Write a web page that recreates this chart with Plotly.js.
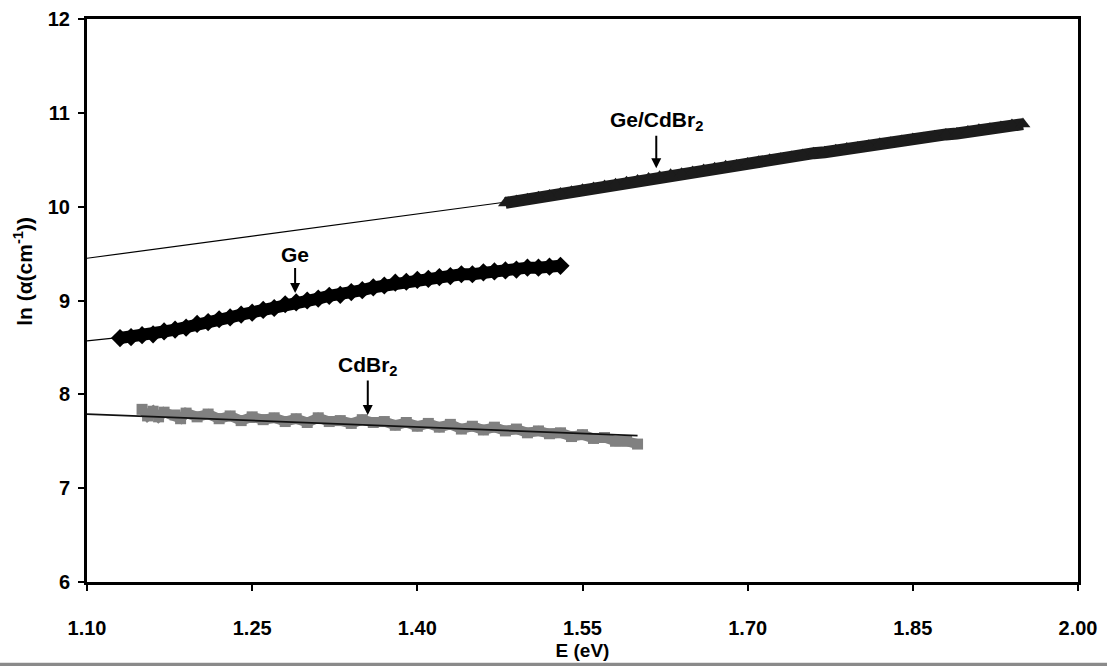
<!DOCTYPE html>
<html>
<head>
<meta charset="utf-8">
<script src="https://cdn.plot.ly/plotly-3.0.1.min.js"></script>
<style>html,body{margin:0;padding:0;background:#fff;}#chart{width:1107px;height:666px;}</style>
</head>
<body>
<div id="chart"></div>
<script>
// Ge
const geE = [1.13,1.14,1.15,1.16,1.17,1.18,1.19,1.20,1.21,1.22,1.23,1.24,1.25,1.26,1.27,1.28,1.29,1.30,1.31,1.32,1.33,1.34,1.35,1.36,1.37,1.38,1.39,1.40,1.41,1.42,1.43,1.44,1.45,1.46,1.47,1.48,1.49,1.50,1.51,1.52,1.53];
const geLn = [8.60,8.61,8.63,8.64,8.67,8.69,8.71,8.75,8.77,8.80,8.82,8.85,8.87,8.90,8.92,8.96,8.98,9.00,9.02,9.05,9.06,9.09,9.11,9.14,9.16,9.19,9.20,9.22,9.23,9.25,9.26,9.28,9.28,9.30,9.31,9.32,9.33,9.35,9.35,9.36,9.37];
// Ge/CdBr2
const gecdE = [1.48,1.49,1.50,1.51,1.52,1.53,1.54,1.55,1.56,1.57,1.58,1.59,1.60,1.61,1.62,1.63,1.64,1.65,1.66,1.67,1.68,1.69,1.70,1.71,1.72,1.73,1.74,1.75,1.76,1.77,1.78,1.79,1.80,1.81,1.82,1.83,1.84,1.85,1.86,1.87,1.88,1.89,1.90,1.91,1.92,1.93,1.94,1.95];
const gecdLn = [10.04,10.06,10.08,10.10,10.12,10.14,10.16,10.18,10.20,10.22,10.24,10.26,10.28,10.30,10.32,10.34,10.35,10.37,10.39,10.41,10.43,10.44,10.46,10.48,10.50,10.51,10.53,10.55,10.57,10.58,10.60,10.62,10.63,10.65,10.67,10.68,10.70,10.72,10.73,10.75,10.77,10.78,10.80,10.82,10.83,10.85,10.87,10.88];
// CdBr2
const cdE = [1.15,1.155,1.16,1.165,1.17,1.18,1.185,1.19,1.20,1.21,1.22,1.23,1.24,1.25,1.26,1.27,1.28,1.29,1.30,1.31,1.32,1.33,1.34,1.35,1.36,1.37,1.38,1.39,1.40,1.41,1.42,1.43,1.44,1.45,1.46,1.47,1.48,1.49,1.50,1.51,1.52,1.53,1.54,1.55,1.56,1.57,1.58,1.59,1.60];
const cdLn = [7.84,7.77,7.82,7.76,7.81,7.78,7.74,7.80,7.76,7.79,7.74,7.77,7.72,7.76,7.73,7.75,7.71,7.74,7.70,7.75,7.71,7.72,7.69,7.73,7.70,7.71,7.67,7.70,7.66,7.69,7.65,7.68,7.63,7.66,7.62,7.65,7.61,7.63,7.59,7.61,7.58,7.59,7.55,7.57,7.53,7.54,7.50,7.50,7.47];
// linear-fit extrapolations (end points)
const fitGeE = [1.10, 1.15], fitGeLn = [8.57, 8.63];
const fitGeCdE = [1.10, 1.50], fitGeCdLn = [9.45, 10.08];
const fitCdE = [1.10, 1.60], fitCdLn = [7.79, 7.56];
// labels
const labels = ['Ge/CdBr<sub>2</sub>', 'Ge', 'CdBr<sub>2</sub>'];
const labelE = [1.617, 1.289, 1.355];
const labelLn = [10.41, 9.08, 7.78];
const xTicks = [1.10, 1.25, 1.40, 1.55, 1.70, 1.85, 2.00];
const xTickText = ['1.10','1.25','1.40','1.55','1.70','1.85','2.00'];
const yTicks = [6,7,8,9,10,11,12];
const xTitle = 'E (eV)';
const yTitle = 'ln (α(cm<sup>-1</sup>))';

const F = 'Liberation Sans, Arial, sans-serif';
const traces = [
  {x: fitGeCdE, y: fitGeCdLn, mode: 'lines', line: {color: '#000', width: 1.2}, showlegend: false},
  {x: fitGeE, y: fitGeLn, mode: 'lines', line: {color: '#000', width: 1.2}, showlegend: false},
  {x: geE, y: geLn, mode: 'lines', line: {color: '#000', width: 12}, showlegend: false},
  {x: geE, y: geLn, mode: 'markers', marker: {symbol: 'diamond', size: 14, color: '#000'}, showlegend: false},
  {x: gecdE, y: gecdLn, mode: 'lines', line: {color: '#1c1c1c', width: 12}, showlegend: false},
  {x: gecdE, y: gecdLn, mode: 'markers', marker: {symbol: 'triangle-up', size: 13, color: '#1c1c1c'}, showlegend: false},
  {x: cdE, y: cdLn, mode: 'lines', line: {color: '#808080', width: 10}, showlegend: false},
  {x: cdE, y: cdLn, mode: 'markers', marker: {symbol: 'square', size: 11, color: '#808080'}, showlegend: false},
  {x: fitCdE, y: fitCdLn, mode: 'lines', line: {color: '#111', width: 1.8}, showlegend: false}
];
const annotations = labels.map((t, i) => ({
  x: labelE[i], y: labelLn[i], xref: 'x', yref: 'y', text: t,
  showarrow: true, arrowhead: 2, arrowsize: 1, arrowwidth: 2, arrowcolor: '#000',
  ax: 0, ay: [-47, -38, -49][i],
  font: {family: F, size: 21, color: '#000', weight: 'bold'}
}));
annotations.push({
  xref: 'paper', yref: 'paper', x: -0.064, y: 0.552, xanchor: 'center', yanchor: 'middle',
  text: yTitle, textangle: -90, showarrow: false,
  font: {family: F, size: 21, color: '#000', weight: 'bold'}
});
const layout = {
  width: 1107, height: 666,
  margin: {l: 87, r: 29, t: 19, b: 84},
  paper_bgcolor: '#fff', plot_bgcolor: '#fff',
  xaxis: {
    range: [1.10, 2.00], tickvals: xTicks, ticktext: xTickText,
    showgrid: false, zeroline: false, showline: true, mirror: true,
    linecolor: '#000', linewidth: 3, ticks: 'outside', ticklen: 6, tickwidth: 2, tickcolor: '#000',
    ticklabelstandoff: 20,
    tickfont: {family: F, size: 20, color: '#000', weight: 'bold'},
    title: {text: xTitle, font: {family: F, size: 19, color: '#000', weight: 'bold'}, standoff: 6}
  },
  yaxis: {
    range: [6, 12], tickvals: yTicks,
    showgrid: false, zeroline: false, showline: true, mirror: true,
    linecolor: '#000', linewidth: 3, ticks: 'outside', ticklen: 6, tickwidth: 2, tickcolor: '#000',
    ticklabelstandoff: 4,
    tickfont: {family: F, size: 20, color: '#000', weight: 'bold'}
  },
  annotations: annotations,
  shapes: [{type: 'rect', xref: 'paper', yref: 'paper', x0: -0.0878, x1: 1.03, y0: -0.149, y1: -0.1435, fillcolor: '#8a8a8a', line: {width: 0}}]
};
Plotly.newPlot('chart', traces, layout, {staticPlot: true, displayModeBar: false});
</script>
</body>
</html>
